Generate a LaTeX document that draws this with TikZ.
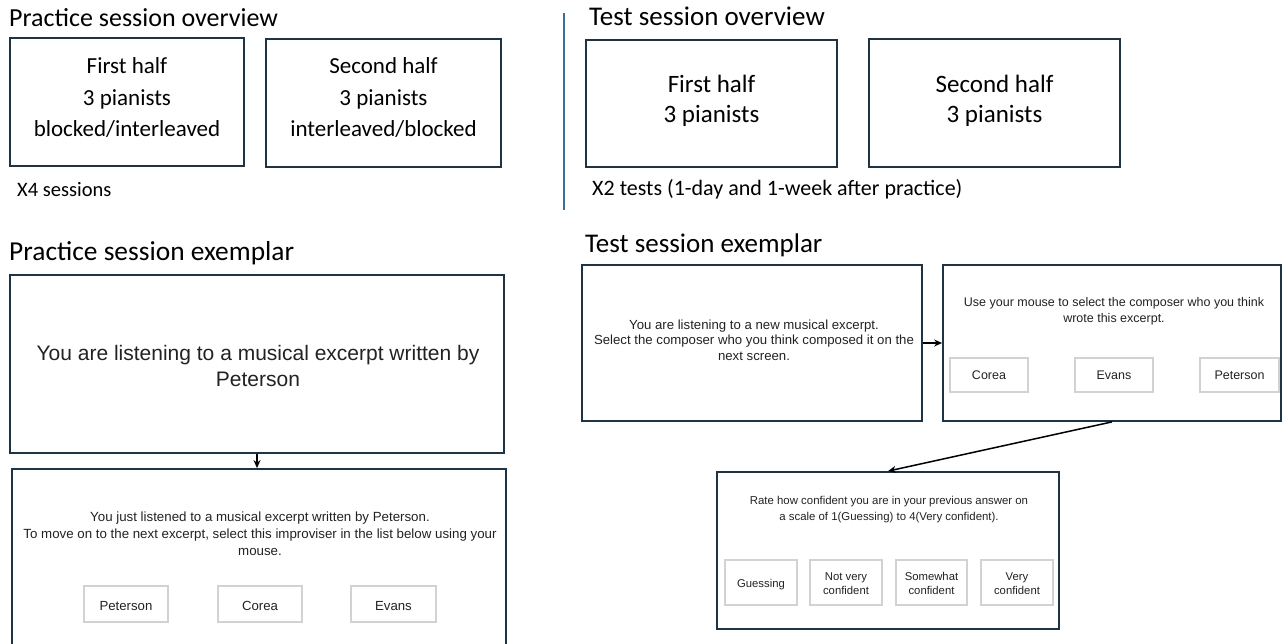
\documentclass[tikz,border=0pt]{standalone}
\usepackage{fontspec}
\setmainfont{Carlito}
\newfontfamily\arialf{Liberation Sans}
\usetikzlibrary{arrows.meta}
\definecolor{boxc}{HTML}{1E3344}
\definecolor{divc}{HTML}{3B6F95}
\definecolor{btnc}{HTML}{D2D2D2}
\definecolor{txtc}{HTML}{222222}
\begin{document}
\begin{tikzpicture}[x=1pt,y=-1pt,
  ovbox/.style={draw=boxc, line width=1.8pt, inner sep=0pt, fill=none},
  scrbox/.style={draw=boxc, line width=1.8pt, inner sep=0pt},
  btnbox/.style={draw=btnc, line width=1.1pt, inner sep=0pt},
  txt/.style={inner sep=0pt, align=center, anchor=base, text=black},
  scrtxt/.style={inner sep=0pt, align=center, anchor=base, text=txtc},
  arr/.style={-{Stealth[length=8pt,width=7pt]}, line width=1.5pt, black}]
\useasboundingbox (0,0) rectangle (1282,644);
\clip (0,0) rectangle (1282,644);

% ---------- titles ----------
\node[inner sep=0pt, anchor=base west, font=\fontsize{26}{31}\selectfont] (tpo) at (9,27) {Practice session overview};
\node[inner sep=0pt, anchor=base west, font=\fontsize{27}{32}\selectfont] (tto) at (589,26) {Test session overview};
\node[inner sep=0pt, anchor=base west, font=\fontsize{27.4}{32}\selectfont] (tpe) at (9,261) {Practice session exemplar};
\node[inner sep=0pt, anchor=base west, font=\fontsize{27}{32}\selectfont] (tte) at (585,253) {Test session exemplar};

% divider
\coordinate (dtop) at (564,13);
\coordinate (dbot) at (564,210);
\draw[divc, line width=1.3pt] (dtop) -- (dbot);

% ---------- practice overview ----------
\node[ovbox, minimum width=234pt, minimum height=128pt] (pb1) at (127,102) {};
\node[ovbox, minimum width=235pt, minimum height=128pt] (pb2) at (383.5,103) {};
\node[txt, font=\fontsize{23}{31.5}\selectfont] (pt1) at (127,137) {First half\\3 pianists\\blocked/interleaved};
\node[txt, font=\fontsize{23}{31.5}\selectfont] (pt2) at (383.5,137) {Second half\\3 pianists\\interleaved/blocked};
\node[inner sep=0pt, anchor=base west, font=\fontsize{20.5}{24}\selectfont] (px4) at (17,197) {X4 sessions};

% ---------- test overview ----------
\node[ovbox, minimum width=251pt, minimum height=127pt] (tb1) at (711.5,103.5) {};
\node[ovbox, minimum width=251pt, minimum height=128pt] (tb2) at (994.5,103) {};
\node[txt, font=\fontsize{25}{30}\selectfont] (tt1) at (711.5,123) {First half\\3 pianists};
\node[txt, font=\fontsize{25}{30}\selectfont] (tt2) at (994.5,123) {Second half\\3 pianists};
\node[inner sep=0pt, anchor=base west, font=\fontsize{22}{26}\selectfont] (tx2) at (592,196) {X2 tests (1-day and 1-week after practice)};

% ---------- practice exemplar ----------
\node[scrbox, minimum width=494pt, minimum height=178pt] (sa) at (257,364) {};
\node[scrtxt, font=\arialf\fontsize{21}{26}\selectfont] (sat) at (258,386) {You are listening to a musical excerpt written by\\Peterson};
\node[scrbox, minimum width=494pt, minimum height=200pt] (sb) at (259,569) {};
\node[scrtxt, font=\arialf\fontsize{13.3}{16.7}\selectfont] (sbt) at (260,555) {You just listened to a musical excerpt written by Peterson.\\To move on to the next excerpt, select this improviser in the list below using your\\mouse.};
\node[btnbox, minimum width=84pt, minimum height=36pt] (bp1) at (126,604) {};
\node[btnbox, minimum width=84pt, minimum height=36pt] (bp2) at (260,604) {};
\node[btnbox, minimum width=85pt, minimum height=36pt] (bp3) at (393.5,604) {};
\node[scrtxt, font=\arialf\fontsize{13.2}{16}\selectfont] (bp1t) at (126,610) {Peterson};
\node[scrtxt, font=\arialf\fontsize{13.2}{16}\selectfont] (bp2t) at (260,610) {Corea};
\node[scrtxt, font=\arialf\fontsize{13.2}{16}\selectfont] (bp3t) at (393.5,610) {Evans};
\draw[arr] (sa.south) -- (sa.south |- sb.north);

% ---------- test exemplar ----------
\node[scrbox, minimum width=340pt, minimum height=156pt] (sc) at (752,343) {};
\node[scrtxt, font=\arialf\fontsize{13.2}{15.5}\selectfont] (sct) at (754,360) {You are listening to a new musical excerpt.\\Select the composer who you think composed it on the\\next screen.};
\node[scrbox, minimum width=338pt, minimum height=156pt] (sd) at (1112,343) {};
\node[scrtxt, font=\arialf\fontsize{12.5}{16}\selectfont] (sdt) at (1114,322) {Use your mouse to select the composer who you think\\wrote this excerpt.};
\node[btnbox, minimum width=78pt, minimum height=34pt] (bd1) at (989,375) {};
\node[btnbox, minimum width=78pt, minimum height=34pt] (bd2) at (1114,375) {};
\node[btnbox, minimum width=79pt, minimum height=34pt] (bd3) at (1239.5,375) {};
\node[scrtxt, font=\arialf\fontsize{12.5}{15}\selectfont] (bd1t) at (989,379) {Corea};
\node[scrtxt, font=\arialf\fontsize{12.5}{15}\selectfont] (bd2t) at (1114,379) {Evans};
\node[scrtxt, font=\arialf\fontsize{12.5}{15}\selectfont] (bd3t) at (1239.5,379) {Peterson};

\node[scrbox, minimum width=342pt, minimum height=157pt] (se) at (888,550.5) {};
\node[scrtxt, font=\arialf\fontsize{11.4}{16}\selectfont] (set) at (889,520) {Rate how confident you are in your previous answer on\\a scale of 1(Guessing) to 4(Very confident).};
\node[btnbox, minimum width=72pt, minimum height=45pt] (be1) at (761,582.5) {};
\node[btnbox, minimum width=72pt, minimum height=45pt] (be2) at (846,582.5) {};
\node[btnbox, minimum width=71pt, minimum height=45pt] (be3) at (931.5,582.5) {};
\node[btnbox, minimum width=72pt, minimum height=45pt] (be4) at (1017,582.5) {};
\node[scrtxt, font=\arialf\fontsize{11.3}{14}\selectfont] (be1t) at (761,587) {Guessing};
\node[scrtxt, font=\arialf\fontsize{11.3}{14}\selectfont] (be2t) at (846,594) {Not very\\confident};
\node[scrtxt, font=\arialf\fontsize{11.3}{14}\selectfont] (be3t) at (931.5,594) {Somewhat\\confident};
\node[scrtxt, font=\arialf\fontsize{11.3}{14}\selectfont] (be4t) at (1017,594) {Very\\confident};

\draw[arr] (sc.east) -- (sd.west);
\draw[arr] (sd.south) -- (se.north);
\end{tikzpicture}
\end{document}
